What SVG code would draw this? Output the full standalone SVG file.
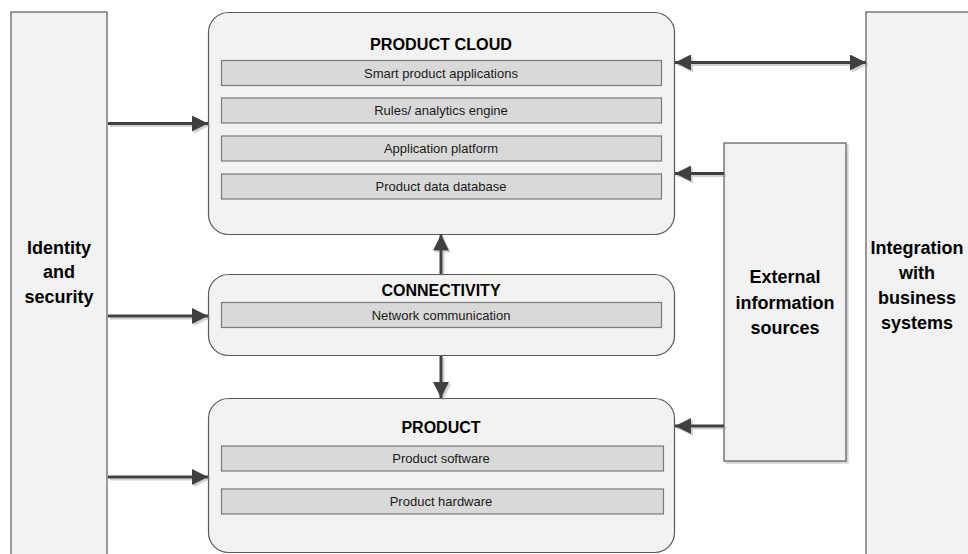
<svg xmlns="http://www.w3.org/2000/svg" width="968" height="554" viewBox="0 0 968 554">
  <style>
    .panel { fill: #f2f2f2; stroke: #595959; stroke-width: 1.2; }
    .bar { fill: #d9d9d9; stroke: #7a7a7a; stroke-width: 1.2; }
    .title { font-family: "Liberation Sans", Arial, sans-serif; font-weight: bold; font-size: 16px; fill: #000; text-anchor: middle; }
    .side { font-family: "Liberation Sans", Arial, sans-serif; font-weight: bold; font-size: 18px; fill: #000; text-anchor: middle; }
    .item { font-family: "Liberation Sans", Arial, sans-serif; font-size: 13px; fill: #1a1a1a; text-anchor: middle; }
    .wire { stroke: #404040; stroke-width: 3; fill: none; }
  </style>
  <defs>
    <marker id="head" viewBox="0 0 16 16" refX="16" refY="8" markerWidth="16" markerHeight="16" markerUnits="userSpaceOnUse" orient="auto-start-reverse">
      <path d="M0,0 L16,8 L0,16 Z" fill="#404040"/>
    </marker>
    <filter id="shadow" x="-10%" y="-10%" width="120%" height="130%">
      <feDropShadow dx="2" dy="2" stdDeviation="0.6" flood-color="#9a9a9a" flood-opacity="0.45"/>
    </filter>
  </defs>

  <rect width="968" height="554" fill="#ffffff"/>

  <!-- Identity and security column -->
  <g id="identity">
    <rect class="panel" x="11" y="12" width="96" height="560"/>
    <text class="side" x="59" y="254">Identity</text>
    <text class="side" x="59" y="278">and</text>
    <text class="side" x="59" y="303">security</text>
  </g>

  <!-- Integration column -->
  <g id="integration">
    <rect class="panel" x="866" y="12" width="120" height="560"/>
    <text class="side" x="917" y="254">Integration</text>
    <text class="side" x="917" y="279">with</text>
    <text class="side" x="917" y="304">business</text>
    <text class="side" x="917" y="329">systems</text>
  </g>

  <!-- External information sources -->
  <g id="external">
    <rect class="panel" x="724" y="143" width="122" height="318" filter="url(#shadow)"/>
    <text class="side" x="785" y="283">External</text>
    <text class="side" x="785" y="309">information</text>
    <text class="side" x="785" y="334">sources</text>
  </g>

  <!-- Product cloud -->
  <g id="product-cloud">
    <rect class="panel" x="208.5" y="12.5" width="466" height="222" rx="20" ry="20"/>
    <text class="title" x="441" y="49.5" textLength="142" lengthAdjust="spacingAndGlyphs">PRODUCT CLOUD</text>
    <rect class="bar" x="221.5" y="60.5" width="440" height="25"/>
    <text class="item" x="441" y="77.5">Smart product applications</text>
    <rect class="bar" x="221.5" y="98" width="440" height="25"/>
    <text class="item" x="441" y="115">Rules/ analytics engine</text>
    <rect class="bar" x="221.5" y="136" width="440" height="25"/>
    <text class="item" x="441" y="153">Application platform</text>
    <rect class="bar" x="221.5" y="174" width="440" height="25"/>
    <text class="item" x="441" y="191">Product data database</text>
  </g>

  <!-- Connectivity -->
  <g id="connectivity">
    <rect class="panel" x="208.5" y="274.5" width="466" height="81" rx="20" ry="20"/>
    <text class="title" x="441" y="296">CONNECTIVITY</text>
    <rect class="bar" x="221.5" y="302.5" width="440" height="25"/>
    <text class="item" x="441" y="319.5">Network communication</text>
  </g>

  <!-- Product -->
  <g id="product">
    <rect class="panel" x="208.5" y="398.5" width="466" height="154" rx="20" ry="20"/>
    <text class="title" x="441" y="432.5">PRODUCT</text>
    <rect class="bar" x="221.5" y="446" width="442" height="25"/>
    <text class="item" x="441" y="463">Product software</text>
    <rect class="bar" x="221.5" y="489" width="442" height="25"/>
    <text class="item" x="441" y="506">Product hardware</text>
  </g>

  <!-- Connectors -->
  <g id="connectors" filter="url(#shadow)">
    <line class="wire" x1="108" y1="123.5" x2="208" y2="123.5" marker-end="url(#head)"/>
    <line class="wire" x1="108" y1="316" x2="208" y2="316" marker-end="url(#head)"/>
    <line class="wire" x1="108" y1="477" x2="208" y2="477" marker-end="url(#head)"/>
    <line class="wire" x1="441" y1="274" x2="441" y2="234.5" marker-end="url(#head)"/>
    <line class="wire" x1="441" y1="356" x2="441" y2="398" marker-end="url(#head)"/>
    <line class="wire" x1="675" y1="62.5" x2="866" y2="62.5" marker-start="url(#head)" marker-end="url(#head)"/>
    <line class="wire" x1="724" y1="173.5" x2="675" y2="173.5" marker-end="url(#head)"/>
    <line class="wire" x1="724" y1="426" x2="675" y2="426" marker-end="url(#head)"/>
  </g>
</svg>
